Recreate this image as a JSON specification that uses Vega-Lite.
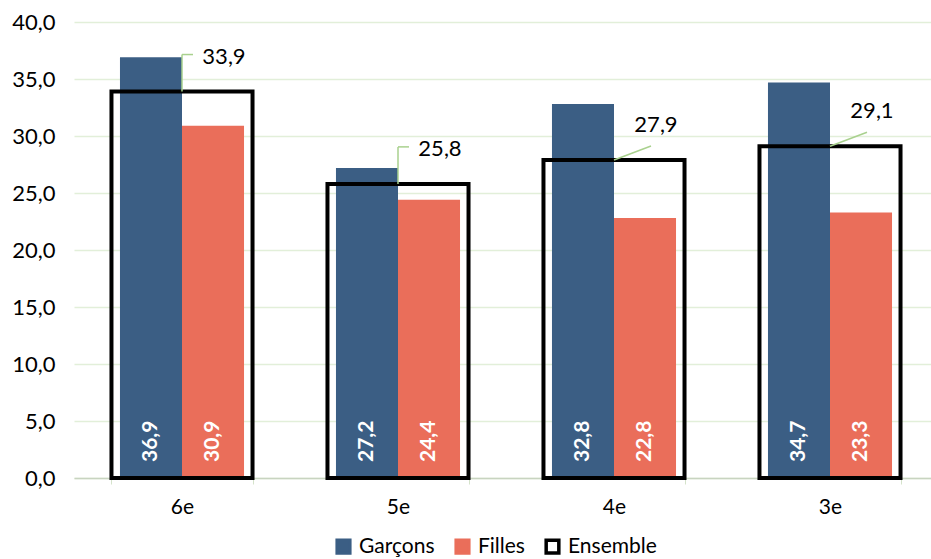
{
  "$schema": "https://vega.github.io/schema/vega-lite/v6.json",
  "width": 864,
  "height": 456,
  "autosize": "none",
  "padding": {"left": 74, "top": 22, "right": 0, "bottom": 81},
  "config": {
    "font": "Lato",
    "view": {"stroke": null},
    "locale": {"number": {"decimal": ",", "thousands": " ", "grouping": [3], "currency": ["", " €"]}}
  },
  "data": {
    "values": [
      {"cat": "6e", "serie": "Garçons", "value": 36.9},
      {"cat": "6e", "serie": "Filles", "value": 30.9},
      {"cat": "6e", "serie": "Ensemble", "value": 33.9},
      {"cat": "5e", "serie": "Garçons", "value": 27.2},
      {"cat": "5e", "serie": "Filles", "value": 24.4},
      {"cat": "5e", "serie": "Ensemble", "value": 25.8},
      {"cat": "4e", "serie": "Garçons", "value": 32.8},
      {"cat": "4e", "serie": "Filles", "value": 22.8},
      {"cat": "4e", "serie": "Ensemble", "value": 27.9},
      {"cat": "3e", "serie": "Garçons", "value": 34.7},
      {"cat": "3e", "serie": "Filles", "value": 23.3},
      {"cat": "3e", "serie": "Ensemble", "value": 29.1}
    ]
  },
  "encoding": {
    "x": {
      "field": "cat", "type": "nominal", "sort": ["6e", "5e", "4e", "3e"],
      "scale": {"paddingInner": 0.347, "paddingOuter": 0.1735},
      "axis": {
        "title": null, "labelAngle": 0, "labelFontSize": 21, "labelColor": "#000000",
        "tickBand": "extent", "tickColor": "#D5E3CB", "tickSize": 6,
        "domainColor": "#C8D4C0", "domainWidth": 1.5, "labelPadding": 12
      }
    },
    "y": {
      "field": "value", "type": "quantitative",
      "scale": {"domain": [0, 40]},
      "axis": {
        "title": null, "format": ".1f", "values": [0, 5, 10, 15, 20, 25, 30, 35, 40],
        "labelOverlap": false, "domain": false, "ticks": false, "labelFontSize": 22, "labelColor": "#000000",
        "labelPadding": 19, "gridColor": "#E2EFD9", "gridWidth": 1.5
      }
    }
  },
  "layer": [
    {
      "transform": [{"filter": "datum.serie !== 'Ensemble'"}],
      "mark": {"type": "bar", "strokeWidth": 0},
      "encoding": {
        "xOffset": {"field": "serie", "type": "nominal", "scale": {"domain": ["Garçons", "Filles"], "paddingOuter": 0.137, "paddingInner": 0}},
        "fill": {
          "field": "serie", "type": "nominal",
          "scale": {"domain": ["Garçons", "Filles", "Ensemble"], "range": ["#3B5E84", "#EA6E5A", "transparent"]},
          "legend": {
            "title": null, "orient": "none", "legendX": 259, "legendY": 514, "direction": "horizontal", "labelFontSize": 21,
            "labelColor": "#000000", "symbolType": "square", "symbolSize": 160, "symbolStrokeWidth": 3.5,
            "columnPadding": 14, "labelOffset": 5
          }
        },
        "stroke": {
          "field": "serie", "type": "nominal",
          "scale": {"domain": ["Garçons", "Filles", "Ensemble"], "range": ["#3B5E84", "#EA6E5A", "#000000"]},
          "legend": {
            "title": null, "orient": "none", "legendX": 259, "legendY": 514, "direction": "horizontal", "labelFontSize": 21,
            "labelColor": "#000000", "symbolType": "square", "symbolSize": 160, "symbolStrokeWidth": 3.5,
            "columnPadding": 14, "labelOffset": 5
          }
        }
      }
    },
    {
      "transform": [{"filter": "datum.serie !== 'Ensemble'"}],
      "mark": {"type": "text", "angle": 270, "align": "left", "baseline": "middle", "dx": 16, "fill": "#FFFFFF", "fontWeight": "bold", "fontSize": 21},
      "encoding": {
        "xOffset": {"field": "serie", "type": "nominal", "scale": {"domain": ["Garçons", "Filles"], "paddingOuter": 0.137, "paddingInner": 0}},
        "y": {"datum": 0, "type": "quantitative"},
        "text": {"field": "value", "type": "quantitative", "format": ".1f"}
      }
    },
    {
      "transform": [{"filter": "datum.serie === 'Ensemble'"}],
      "mark": {"type": "bar", "strokeWidth": 4},
      "encoding": {
        "fill": {"field": "serie", "type": "nominal"},
        "stroke": {"field": "serie", "type": "nominal"}
      }
    },
    {
      "transform": [{"filter": "datum.serie === 'Ensemble' && (datum.cat === '6e' || datum.cat === '5e')"}],
      "mark": {"type": "rule", "color": "#A9D18E", "strokeWidth": 1.5, "y2Offset": -37},
      "encoding": {
        "y2": {"field": "value"}
      }
    },
    {
      "transform": [{"filter": "datum.serie === 'Ensemble' && (datum.cat === '6e' || datum.cat === '5e')"}],
      "mark": {"type": "rule", "color": "#A9D18E", "strokeWidth": 1.5, "yOffset": -37, "y2Offset": -37, "x2Offset": 11},
      "encoding": {
        "x": {"field": "cat", "type": "nominal", "sort": ["6e", "5e", "4e", "3e"], "bandPosition": 0.5},
        "x2": {"field": "cat", "bandPosition": 0.5},
        "y2": {"field": "value"}
      }
    },
    {
      "transform": [{"filter": "datum.serie === 'Ensemble' && (datum.cat === '4e' || datum.cat === '3e')"}],
      "mark": {"type": "rule", "color": "#A9D18E", "strokeWidth": 1.5, "y2Offset": -14, "x2Offset": 37},
      "encoding": {
        "x": {"field": "cat", "type": "nominal", "sort": ["6e", "5e", "4e", "3e"], "bandPosition": 0.5},
        "x2": {"field": "cat", "bandPosition": 0.5},
        "y2": {"field": "value"}
      }
    },
    {
      "transform": [{"filter": "datum.serie === 'Ensemble'"}],
      "mark": {"type": "text", "dx": 42, "dy": -35, "fontSize": 22, "color": "#000000", "align": "center", "baseline": "middle"},
      "encoding": {
        "text": {"field": "value", "type": "quantitative", "format": ".1f"}
      }
    }
  ]
}
